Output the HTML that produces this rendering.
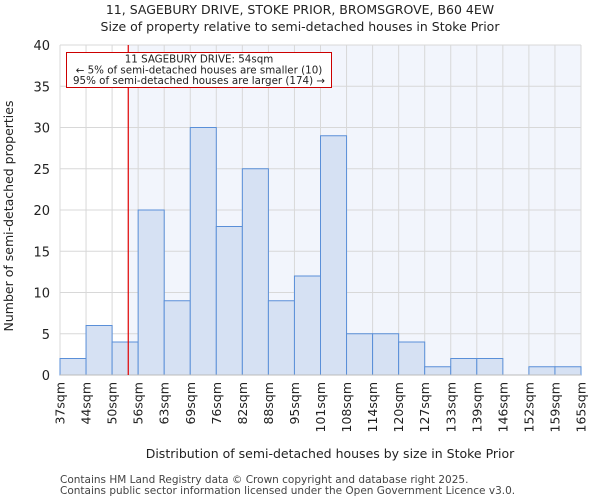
<!DOCTYPE html>
<html><head><meta charset="utf-8"><style>
body{margin:0;background:#fff;font-family:"DejaVu Sans","Liberation Sans",sans-serif;}
</style></head><body>
<svg id="c" width="600" height="500" xmlns="http://www.w3.org/2000/svg" font-family="DejaVu Sans, Liberation Sans, sans-serif">
<text x="300" y="14" text-anchor="middle" font-size="12.5" fill="#222">11, SAGEBURY DRIVE, STOKE PRIOR, BROMSGROVE, B60 4EW</text>
<text x="300" y="31" text-anchor="middle" font-size="12.5" fill="#222">Size of property relative to semi-detached houses in Stoke Prior</text>
<g id="plot"></g>
<text x="330" y="458" text-anchor="middle" font-size="12.5" fill="#222">Distribution of semi-detached houses by size in Stoke Prior</text>
<text transform="translate(13,216) rotate(-90)" text-anchor="middle" font-size="12.5" fill="#222">Number of semi-detached properties</text>
<text x="60" y="483" font-size="10.5" fill="#444">Contains HM Land Registry data © Crown copyright and database right 2025.</text>
<text x="60" y="494" font-size="10.5" fill="#444">Contains public sector information licensed under the Open Government Licence v3.0.</text>
</svg>
<script>
const binLabels=["37sqm","44sqm","50sqm","56sqm","63sqm","69sqm","76sqm","82sqm","88sqm","95sqm","101sqm","108sqm","114sqm","120sqm","127sqm","133sqm","139sqm","146sqm","152sqm","159sqm","165sqm"];
const counts=[2,6,4,20,9,30,18,25,9,12,29,5,5,4,1,2,2,0,1,1];
const yTicks=[0,5,10,15,20,25,30,35,40];
const propertyBinPos=2.62;
const L=60,R=581,T=45,B=375,yMax=40;
const n=counts.length,bw=(R-L)/n;
const xs=i=>L+i*bw, ys=v=>B-(v/yMax)*(B-T);
const NS="http://www.w3.org/2000/svg",g=document.getElementById('plot');
function mk(t,a){const e=document.createElementNS(NS,t);for(const k in a)e.setAttribute(k,a[k]);g.appendChild(e);return e;}
const px=xs(propertyBinPos);
let e=mk('rect',{x:px,y:T,width:R-px,height:B-T,fill:'#f2f5fc'});


for(let i=0;i<=n;i++){e=mk('line',{x1:xs(i),x2:xs(i),y1:T,y2:B,stroke:'#d8d8d8','stroke-width':1});

}
yTicks.forEach(v=>{e=mk('line',{x1:L,x2:R,y1:ys(v),y2:ys(v),stroke:'#d8d8d8','stroke-width':1});


e=mk('text',{x:L-10,y:ys(v)+5,'text-anchor':'end','font-size':13,fill:'#222'});e.textContent=v;

});
counts.forEach((c,i)=>{if(c<=0)return;e=mk('rect',{x:xs(i),y:ys(c),width:bw,height:B-ys(c),fill:'#d6e1f3',stroke:'#5a8fd8','stroke-width':1});

});
e=mk('line',{x1:L,x2:R,y1:B,y2:B,stroke:'#bbb'});


binLabels.forEach((s,i)=>{const x=xs(i)+4.5;e=mk('text',{x:x,y:382,transform:`rotate(-90 ${x} 382)`,'text-anchor':'end','font-size':12.5,fill:'#222'});e.textContent=s;

});
e=mk('line',{x1:px,x2:px,y1:T,y2:B,stroke:'#e00000','stroke-width':1.2});


e=mk('rect',{x:66.5,y:52.5,width:265,height:35,fill:'#fff',stroke:'#cc0000','stroke-width':1});


[["11 SAGEBURY DRIVE: 54sqm",62.5],["← 5% of semi-detached houses are smaller (10)",73.5],["95% of semi-detached houses are larger (174) →",84]].forEach(([t,y])=>{e=mk('text',{x:199,y:y,'text-anchor':'middle','font-size':10.3,fill:'#222'});e.textContent=t;

});
</script>
</body></html>
